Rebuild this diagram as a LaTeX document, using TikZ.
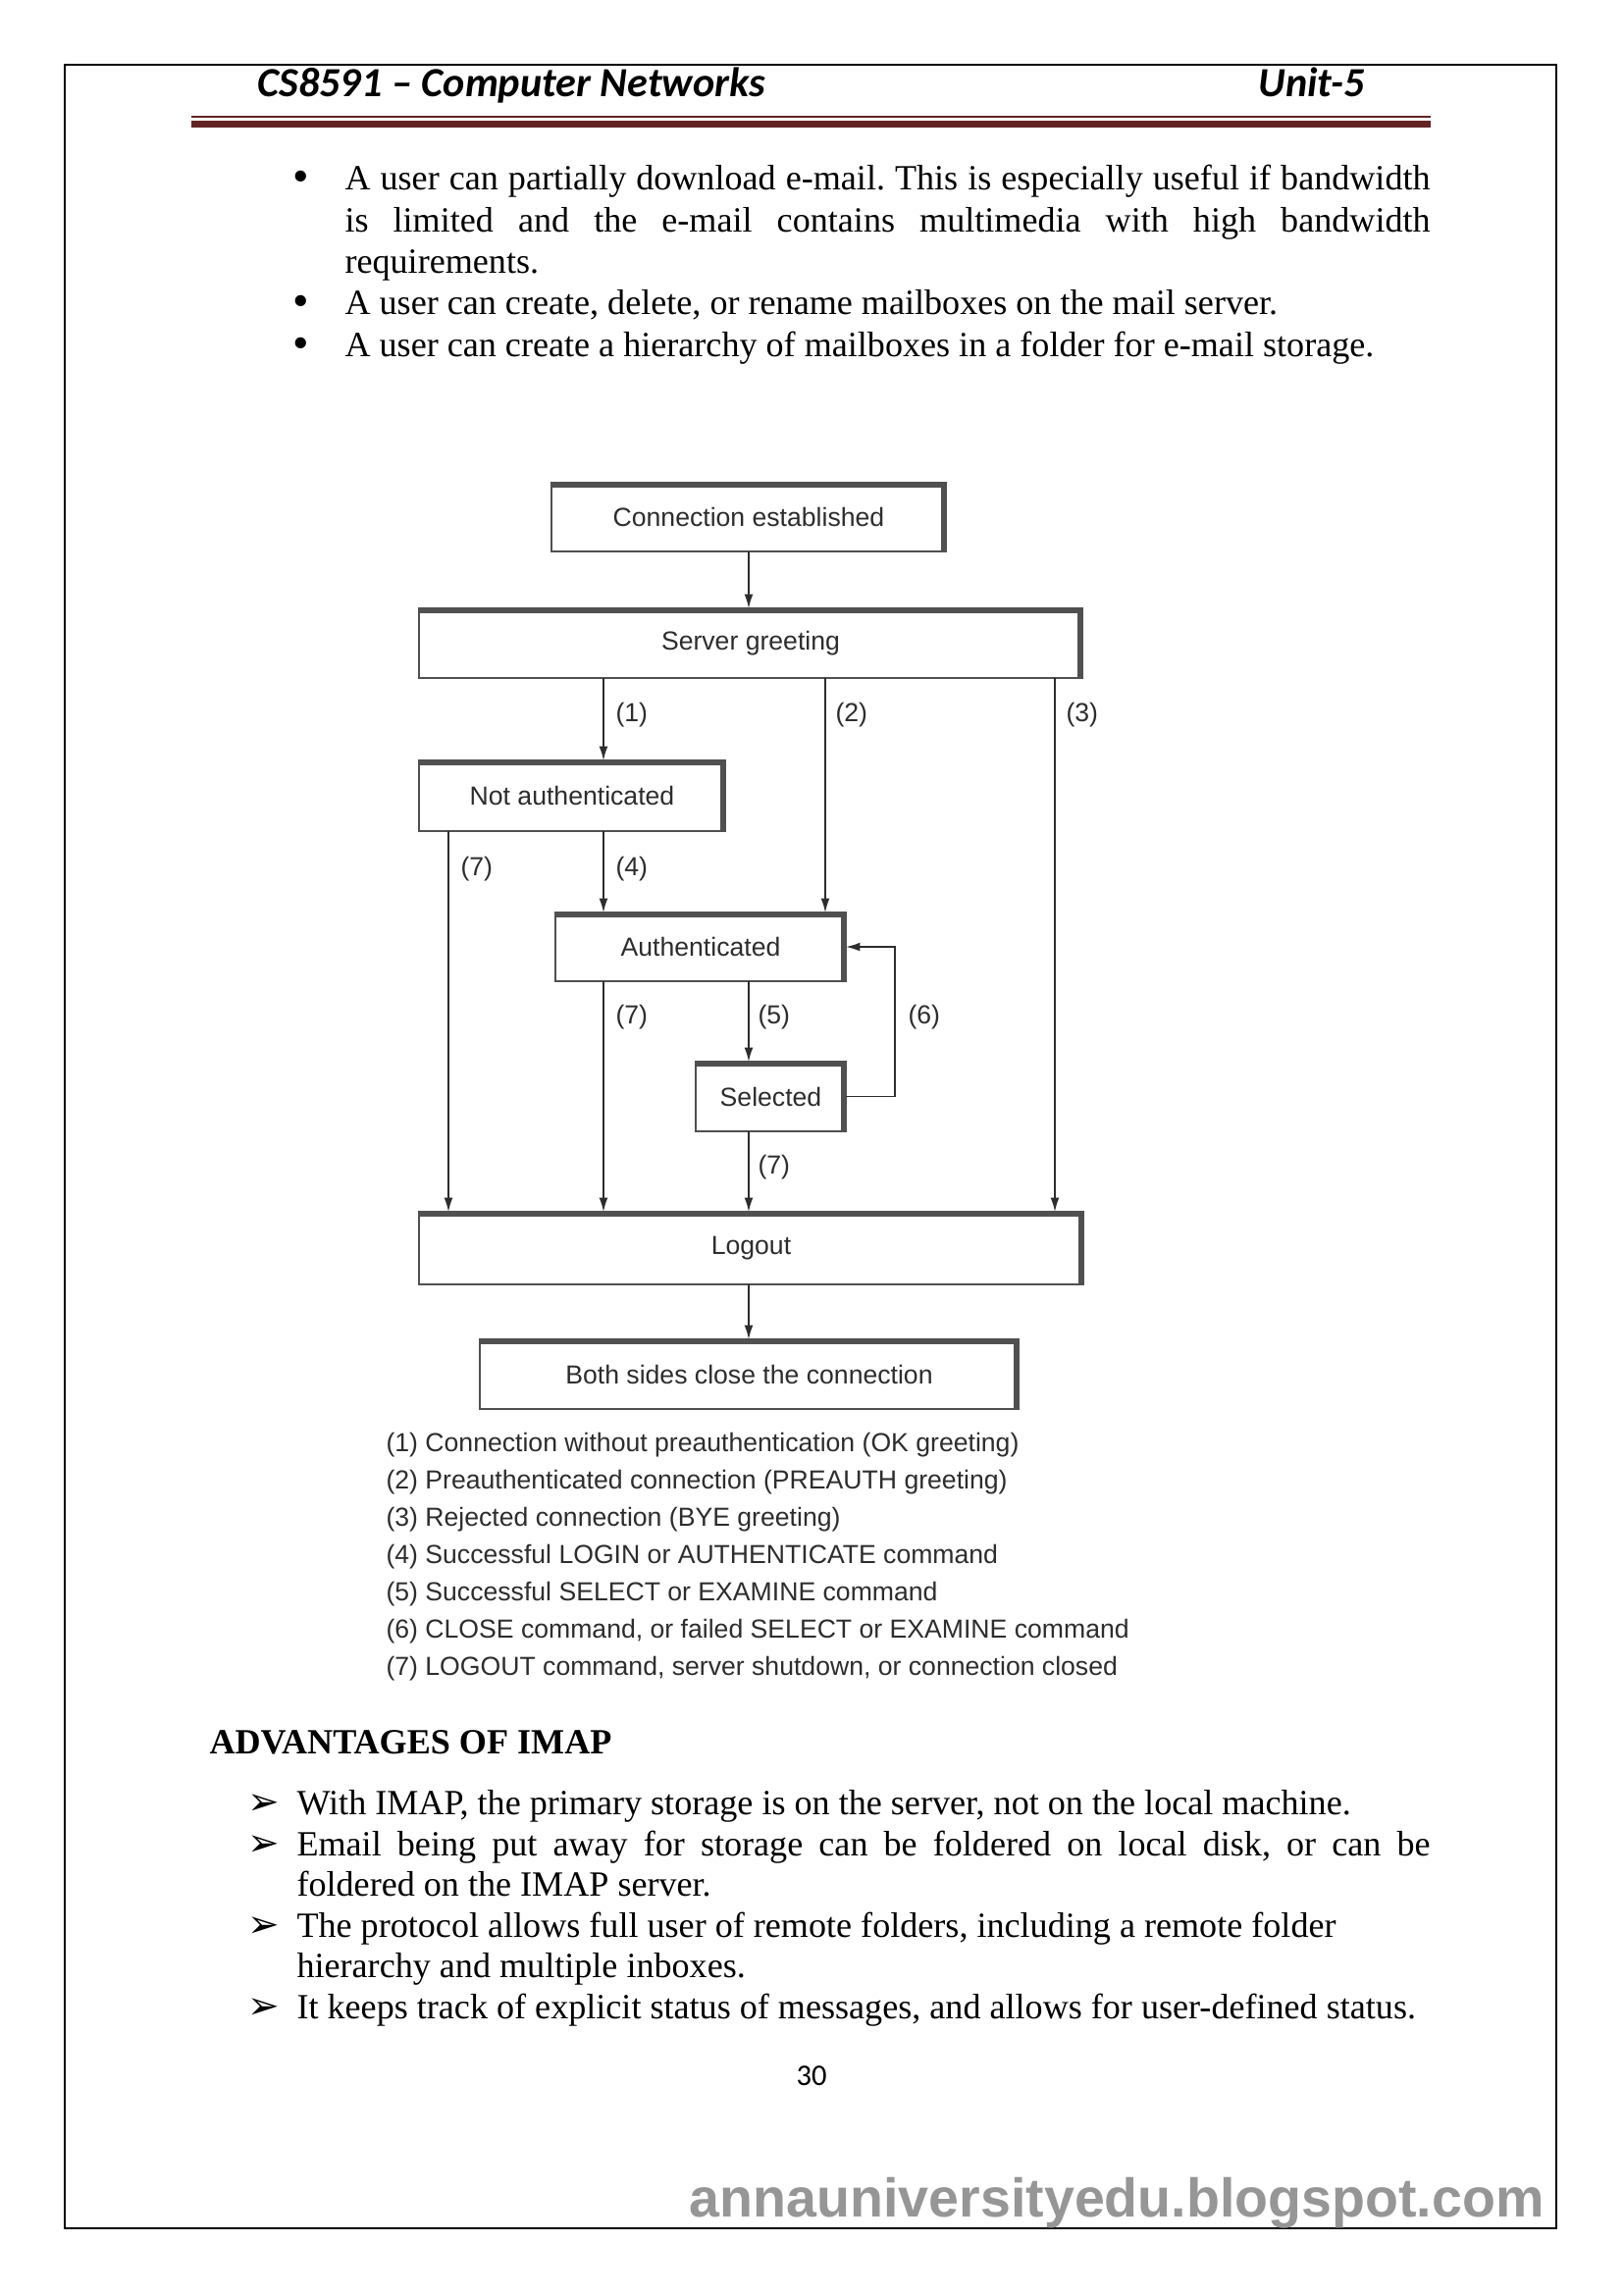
\documentclass[tikz,border=0pt]{standalone}
\usepackage{fontspec}
\setmainfont{Liberation Serif}
\newfontfamily\diagfont{Liberation Sans}
\newfontfamily\headfont{Carlito}
\newfontfamily\symfont{DejaVu Sans}
\usetikzlibrary{arrows.meta}
\definecolor{rulered}{RGB}{98,36,35}
\definecolor{ink}{RGB}{45,45,45}
\definecolor{boxline}{RGB}{80,80,80}
\definecolor{markgray}{RGB}{150,150,150}
\frenchspacing
\begin{document}
\begin{tikzpicture}[x=0.36pt,y=-0.36pt,
  bodytext/.style={anchor=base west,inner sep=0pt,font=\fontsize{13}{15}\selectfont},
  bulletmark/.style={anchor=base,inner sep=0pt,font=\fontsize{17}{19}\selectfont},
  arrowmark/.style={anchor=base west,inner sep=0pt,font=\symfont\fontsize{14}{16}\selectfont},
  stbox/.style={draw=boxline,line width=0.7pt,outer sep=0pt,inner sep=0pt,
    font=\diagfont\fontsize{9.58}{11}\selectfont,text=ink},
  edge3d/.style={draw=boxline,line width=1.8pt},
  flowarrow/.style={draw=ink,line width=0.6pt,line join=miter,-{Latex[length=5.2pt,width=3.2pt]}},
  numtag/.style={anchor=west,inner sep=0pt,font=\diagfont\fontsize{9.58}{11}\selectfont,text=ink},
  legline/.style={anchor=base west,inner sep=0pt,font=\diagfont\fontsize{9.58}{11}\selectfont,text=ink},
  headtext/.style={anchor=base west,inner sep=0pt,font=\headfont\bfseries\itshape\fontsize{15.2}{18}\selectfont},
]
% page
\fill[white] (0,0) rectangle (1654,2339);
\useasboundingbox (0,0) rectangle (1654,2339);
\draw[line width=0.75pt] (66,66) rectangle (1586,2271);

% running header
\node[headtext] (htitle) at (262,98) {CS8591 – Computer Networks};
\node[headtext] (hunit) at (1282,98) {Unit-5};
\draw[rulered,line width=0.8pt] (195,119) -- (1458,119);
\draw[rulered,line width=2.63pt] (195,126.4) -- (1458,126.4);

% IMAP features list
\node[bulletmark] (bu1) at (307,195) {\textbullet};
\node[bodytext] (t1a) at (351,193) {\makebox[398.16pt][s]{A user can partially download e-mail. This is especially useful if bandwidth}};
\node[bodytext] (t1b) at (351,236) {\makebox[398.16pt][s]{is limited and the e-mail contains multimedia with high bandwidth}};
\node[bodytext] (t1c) at (351,278) {requirements.};
\node[bulletmark] (bu2) at (307,322) {\textbullet};
\node[bodytext] (t2) at (351,320) {A user can create, delete, or rename mailboxes on the mail server.};
\node[bulletmark] (bu3) at (307,365) {\textbullet};
\node[bodytext] (t3) at (351,363) {A user can create a hierarchy of mailboxes in a folder for e-mail storage.};

% IMAP state diagram
\node[stbox,minimum width=144.72pt,minimum height=25.2pt] (conn) at (763,527) {Connection established};
\node[stbox,minimum width=243.36pt,minimum height=25.56pt] (greet) at (765,655.5) {Server greeting};
\node[stbox,minimum width=112.32pt,minimum height=25.92pt] (notauth) at (583,811) {Not authenticated};
\node[stbox,minimum width=106.56pt,minimum height=25.2pt] (auth) at (714,965) {Authenticated};
\node[stbox,minimum width=55.08pt,minimum height=25.56pt] (sel) at (785.5,1117.5) {Selected};
\node[stbox,minimum width=243.72pt,minimum height=26.64pt] (logout) at (765.5,1272) {Logout};
\node[stbox,minimum width=197.64pt,minimum height=25.56pt] (close) at (763.5,1400.5) {Both sides close the connection};

% raised top and right edges of the state boxes
\foreach \n in {conn,greet,notauth,auth,sel,logout,close}
  \draw[edge3d] ([yshift=-0.9pt]\n.north west) -- ([xshift=-0.9pt,yshift=-0.9pt]\n.north east) -- ([xshift=-0.9pt]\n.south east);

% transition columns
\coordinate (xL) at (457,0);
\coordinate (x1) at (615,0);
\coordinate (xM) at (763,0);
\coordinate (x2) at (841,0);
\coordinate (x6) at (912,0);
\coordinate (x3) at (1075,0);

\draw[flowarrow] (conn.south) -- (conn.south |- greet.north);
\draw[flowarrow] (greet.south -| x1) -- (notauth.north -| x1);
\draw[flowarrow] (greet.south -| x2) -- (auth.north -| x2);
\draw[flowarrow] (greet.south -| x3) -- (logout.north -| x3);
\draw[flowarrow] (notauth.south -| xL) -- (logout.north -| xL);
\draw[flowarrow] (notauth.south -| x1) -- (auth.north -| x1);
\draw[flowarrow] (auth.south -| x1) -- (logout.north -| x1);
\draw[flowarrow] (auth.south -| xM) -- (sel.north -| xM);
\draw[flowarrow] (sel.east) -- (sel.east -| x6) -- (auth.east -| x6) -- (auth.east);
\draw[flowarrow] (sel.south -| xM) -- (logout.north -| xM);
\draw[flowarrow] (logout.south -| xM) -- (close.north -| xM);

% transition numbers
\node[numtag] (n1) at (627,729) {(1)};
\node[numtag] (n2) at (851,729) {(2)};
\node[numtag] (n3) at (1086,729) {(3)};
\node[numtag] (n7a) at (469,886) {(7)};
\node[numtag] (n4) at (627,886) {(4)};
\node[numtag] (n7b) at (627,1037) {(7)};
\node[numtag] (n5) at (772,1037) {(5)};
\node[numtag] (n6) at (925,1037) {(6)};
\node[numtag] (n7c) at (772,1190) {(7)};

% key to the transitions
\node[legline] (k1) at (393,1479) {(1) Connection without preauthentication (OK greeting)};
\node[legline] (k2) at (393,1517) {(2) Preauthenticated connection (PREAUTH greeting)};
\node[legline] (k3) at (393,1555) {(3) Rejected connection (BYE greeting)};
\node[legline] (k4) at (393,1593) {(4) Successful LOGIN or AUTHENTICATE command};
\node[legline] (k5) at (393,1631) {(5) Successful SELECT or EXAMINE command};
\node[legline] (k6) at (393,1669) {(6) CLOSE command, or failed SELECT or EXAMINE command};
\node[legline] (k7) at (393,1707) {(7) LOGOUT command, server shutdown, or connection closed};

% advantages
\node[bodytext,font=\bfseries\fontsize{13}{15}\selectfont] (adv) at (213,1787) {ADVANTAGES OF IMAP};
\node[arrowmark] (a1) at (252,1849) {➢};
\node[bodytext] (u1) at (302,1849) {With IMAP, the primary storage is on the server, not on the local machine.};
\node[arrowmark] (a2) at (252,1891) {➢};
\node[bodytext] (u2a) at (302,1891) {\makebox[415.8pt][s]{Email being put away for storage can be foldered on local disk, or can be}};
\node[bodytext] (u2b) at (302,1932) {foldered on the IMAP server.};
\node[arrowmark] (a3) at (252,1974) {➢};
\node[bodytext] (u3a) at (302,1974) {The protocol allows full user of remote folders, including a remote folder};
\node[bodytext] (u3b) at (302,2015) {hierarchy and multiple inboxes.};
\node[arrowmark] (a4) at (252,2057) {➢};
\node[bodytext] (u4) at (302,2057) {It keeps track of explicit status of messages, and allows for user-defined status.};

% footer
\node[anchor=base,inner sep=0pt,font=\headfont\fontsize{11}{13}\selectfont] (pnum) at (827,2125) {30};
\node[anchor=base east,inner sep=0pt,font=\diagfont\bfseries\fontsize{20}{24}\selectfont,text=markgray] (wmark) at (1574,2259) {annauniversityedu.blogspot.com};
\end{tikzpicture}
\end{document}
